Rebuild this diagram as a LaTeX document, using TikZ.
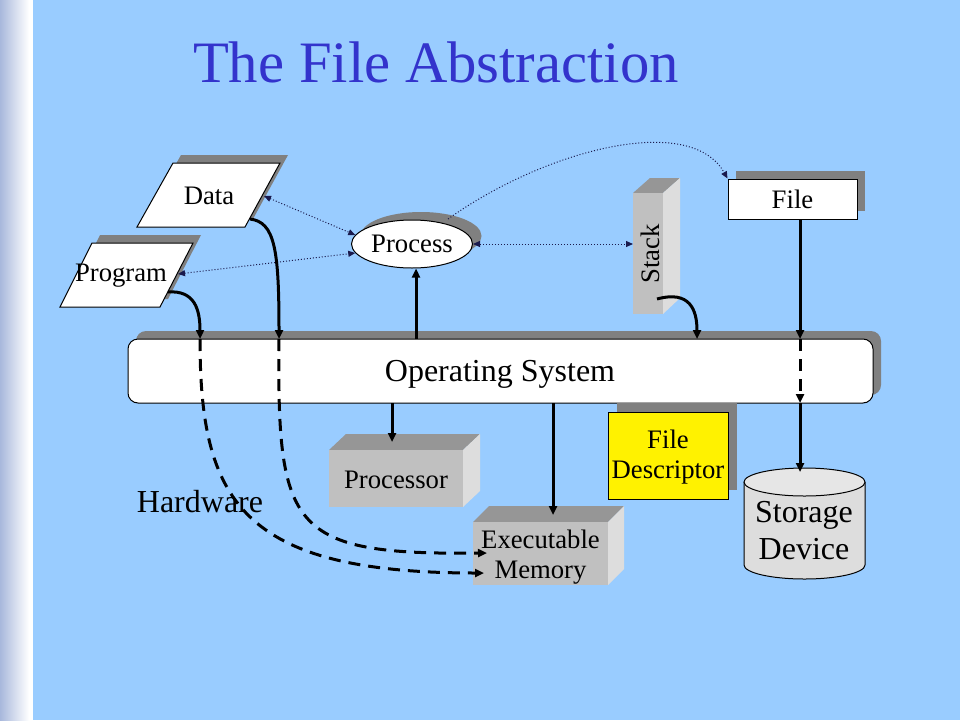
\documentclass[tikz,border=0pt]{standalone}
\usepackage{fontspec}
\setmainfont{Liberation Serif}
\usetikzlibrary{arrows.meta,shapes.geometric,calc}
\definecolor{bg}{HTML}{99CCFF}
\definecolor{shd}{HTML}{808080}
\definecolor{boxfront}{HTML}{C0C0C0}
\definecolor{boxtop}{HTML}{969696}
\definecolor{boxside}{HTML}{DDDDDD}
\definecolor{cylbody}{HTML}{DDDDDD}
\definecolor{cyltop}{HTML}{E6E6E6}
\definecolor{titleblue}{HTML}{3333CC}
\definecolor{dotc}{HTML}{1A1A4D}
\definecolor{strip}{HTML}{A8B8DC}
\newcommand{\fsA}{\fontsize{26.7}{30}\selectfont}
\newcommand{\fsB}{\fontsize{32}{37}\selectfont}
\newcommand{\fsT}{\fontsize{58.7}{66}\selectfont}
\begin{document}
\begin{tikzpicture}[x=1pt,y=-1pt,
  lbl/.style={font=\fsA, inner sep=0pt, align=center},
  biglbl/.style={font=\fsB, inner sep=0pt, align=center},
  thickarrow/.style={line width=3pt, -{Triangle[length=9pt,width=8pt]}},
  dasharrow/.style={line width=3pt, dash pattern=on 12pt off 8pt, -{Triangle[length=9pt,width=8pt]}},
  dotarrow/.style={dotc, line width=1pt, dotted, {Triangle[length=7pt,width=6pt]}-{Triangle[length=7pt,width=6pt]}},
  dotone/.style={dotc, line width=1pt, dotted, -{Triangle[length=7pt,width=6pt]}},
  outline/.style={draw=black, line width=1pt},
]
% background
\fill[bg] (0,0) rectangle (960,720);
\shade[left color=strip, right color=white] (0,0) rectangle (29,720);
\fill[white] (29,0) rectangle (33,720);
\useasboundingbox (0,0) rectangle (960,720);

% title
\node[font=\fsT, text=titleblue, anchor=base, inner sep=0pt] (title) at (436,82) {The File Abstraction};

% Data
\fill[shd] (181,155) -- (288,155) -- (253,219) -- (145,219) -- cycle;
\filldraw[fill=white, outline] (173,163) -- (280,163) -- (245,227) -- (137,227) -- cycle;
\node[lbl] (data) at (209,196) {Data};

% Program
\fill[shd] (100,235) -- (201,235) -- (168,299) -- (68,299) -- cycle;
\filldraw[fill=white, outline] (92,243) -- (193,243) -- (160,307) -- (60,307) -- cycle;
\node[lbl] (program) at (121,276) {Program};

% Process
\node[ellipse, fill=shd, minimum width=121pt, minimum height=48pt, inner sep=0pt] (procshadow) at (421,236) {};
\node[ellipse, draw, line width=1pt, fill=white, minimum width=121pt, minimum height=48pt, inner sep=0pt, font=\fsA] (process) at (412,244) {Process};

% Stack
\fill[boxtop] (633,193) -- (650,178) -- (680,178) -- (663,193) -- cycle;
\fill[boxside] (663,193) -- (680,178) -- (680,298) -- (663,314) -- cycle;
\node[fill=boxfront, minimum width=30pt, minimum height=121pt, inner sep=0pt, anchor=north west] (stackbox) at (633,193) {};
\node[lbl, rotate=90] (stack) at (650,254) {Stack};

% File
\fill[shd] (736,171) rectangle (865,211);
\node[draw, line width=1pt, fill=white, minimum width=129pt, minimum height=40pt, inner sep=0pt, font=\fsA] (file) at (792.5,199) {File};

% Operating System
\fill[shd, rounded corners=10pt] (136,331) rectangle (881,395);
\node[draw, line width=1pt, fill=white, rounded corners=10pt, minimum width=745pt, minimum height=64pt, inner sep=0pt] (os) at (500.5,371) {};
\node[biglbl] (oslabel) at (500,374) {Operating System};

% Processor
\fill[boxtop] (329,450) -- (346,434) -- (480,434) -- (463,450) -- cycle;
\fill[boxside] (463,450) -- (480,434) -- (480,491) -- (463,507) -- cycle;
\node[fill=boxfront, minimum width=134pt, minimum height=57pt, inner sep=0pt, anchor=north west] (procbox) at (329,450) {};
\node[lbl] (processor) at (396,480) {Processor};

% Executable Memory
\fill[boxtop] (473,522) -- (489,506) -- (624,506) -- (608,522) -- cycle;
\fill[boxside] (608,522) -- (624,506) -- (624,569) -- (608,585) -- cycle;
\node[fill=boxfront, minimum width=135pt, minimum height=63pt, inner sep=0pt, anchor=north west] (membox) at (473,522) {};
\node[lbl] (memory) at (540.5,557) {Executable\\Memory};

% File Descriptor
\fill[shd] (617,403) rectangle (737,490);
\node[draw, line width=1pt, fill=yellow, minimum width=120pt, minimum height=87pt, inner sep=0pt, anchor=north west] (fdbox) at (608,412) {};
\node[lbl] (fd) at (668,457) {File\\Descriptor};

% Storage Device
\filldraw[fill=cylbody, outline] (744,482) -- (744,565) arc[start angle=180, end angle=0, x radius=60.5, y radius=14] -- (865,482);
\filldraw[fill=cyltop, outline] (804.5,482) ellipse[x radius=60.5, y radius=14];
\node[biglbl] (storage) at (804,531) {Storage\\Device};

% Hardware
\node[biglbl] (hardware) at (200,502) {Hardware};

% coordinates for connector ends
\coordinate (dataR) at (264,196);
\coordinate (progR) at (178,274);
\coordinate (datasrc) at (250,219);
\coordinate (progsrc) at (168,292);
\coordinate (osA) at (200,339);
\coordinate (osB) at (279,339);
\coordinate (osC) at (416,339);
\coordinate (osD) at (697,339);
\coordinate (osE) at (800,339);
\coordinate (osF) at (800,403);
\coordinate (osG) at (392,403);
\coordinate (osH) at (553,403);
\coordinate (memA) at (487,553);
\coordinate (memB) at (484,573);
\coordinate (pfstart) at (448,219);
\coordinate (stacksrc) at (657,299);
\coordinate (filesrc) at (800,219);
\coordinate (stortop) at (800,472);
\coordinate (proctop) at (392,442);
\coordinate (memtop) at (553,515);

% dotted connectors
\draw[dotarrow] (dataR) -- (process.171);
\draw[dotarrow] (progR) -- (process.189);
\draw[dotarrow] (process.east) -- (process.east -| stackbox.west);
\draw[dotone] (pfstart) .. controls (545,150) and (690,112) .. (file.north west);

% solid connectors
\draw[thickarrow] (progsrc) .. controls (195,290) and (200,310) .. (osA);
\draw[thickarrow] (datasrc) .. controls (275,222) and (279,250) .. (osB);
\draw[thickarrow] (osC) -- (osC |- process.south);
\draw[thickarrow] (stacksrc) .. controls (690,290) and (697,310) .. (osD);
\draw[thickarrow] (filesrc) -- (osE);
\draw[thickarrow] (osF) -- (stortop);
\draw[thickarrow] (osG) -- (proctop);
\draw[thickarrow] (osH) -- (memtop);

% dashed connectors
\draw[dasharrow] (osA) .. controls (200,500) and (240,573) .. (memB);
\draw[dasharrow] (osB) .. controls (277,530) and (290,555) .. (memA);
\draw[dasharrow] (osE) -- (osF);
\end{tikzpicture}
\end{document}
